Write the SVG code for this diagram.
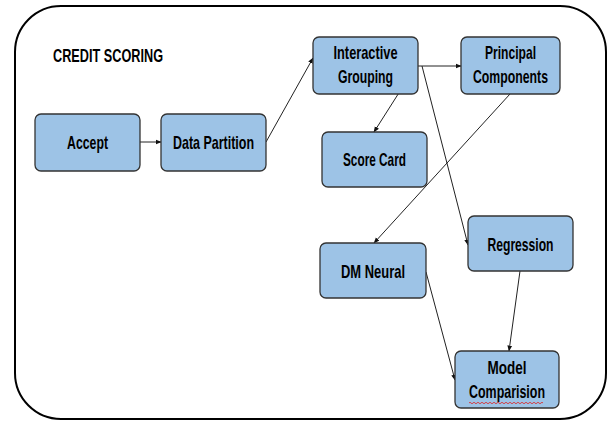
<svg xmlns="http://www.w3.org/2000/svg" width="613" height="423" viewBox="0 0 613 423">
  <style>
    .node rect { fill: #9dc3e6; stroke: #333; stroke-width: 1.3; }
    .node text, .title { font-family: "Liberation Sans", Arial, sans-serif; font-weight: bold; font-size: 18.5px; fill: #000; text-anchor: middle; }
    .title { text-anchor: start; }
    .conn line { stroke: #222; stroke-width: 1; marker-end: url(#arrow); }
  </style>
  <defs>
    <marker id="arrow" viewBox="0 0 10 10" refX="9" refY="5" markerWidth="6" markerHeight="6" orient="auto" markerUnits="userSpaceOnUse">
      <path d="M0,1 L10,5 L0,9 Z" fill="#111"/>
    </marker>
  </defs>
  <rect width="613" height="423" fill="#fff"/>
  <!-- outer frame -->
  <rect x="15" y="6" width="591" height="413" rx="46" ry="46" fill="none" stroke="#000" stroke-width="2"/>
  <text class="title" x="53" y="62" textLength="110" lengthAdjust="spacingAndGlyphs">CREDIT SCORING</text>

  <g class="conn">
    <line x1="140" y1="142" x2="161" y2="142"/>
    <line x1="266" y1="142" x2="313" y2="58"/>
    <line x1="418" y1="66" x2="461" y2="66"/>
    <line x1="416" y1="66" x2="374" y2="132"/>
    <line x1="422" y1="66" x2="468" y2="245"/>
    <line x1="510" y1="94" x2="374" y2="243"/>
    <line x1="426" y1="272" x2="455" y2="380"/>
    <line x1="520" y1="271" x2="509" y2="351"/>
  </g>

  <g id="accept" class="node">
    <rect x="35" y="114" width="105" height="57" rx="6"/>
    <text x="87.5" y="149" textLength="41" lengthAdjust="spacingAndGlyphs">Accept</text>
  </g>
  <g id="data-partition" class="node">
    <rect x="161" y="114" width="105" height="57" rx="6"/>
    <text x="213.5" y="149" textLength="81" lengthAdjust="spacingAndGlyphs">Data Partition</text>
  </g>
  <g id="interactive-grouping" class="node">
    <rect x="313" y="37" width="105" height="57" rx="6"/>
    <text x="365.5" y="59" textLength="64" lengthAdjust="spacingAndGlyphs">Interactive</text>
    <text x="365.5" y="83" textLength="55" lengthAdjust="spacingAndGlyphs">Grouping</text>
  </g>
  <g id="principal-components" class="node">
    <rect x="461" y="37" width="99" height="57" rx="6"/>
    <text x="510.5" y="59" textLength="51" lengthAdjust="spacingAndGlyphs">Principal</text>
    <text x="510.5" y="83" textLength="75" lengthAdjust="spacingAndGlyphs">Components</text>
  </g>
  <g id="score-card" class="node">
    <rect x="322" y="132" width="105" height="55" rx="6"/>
    <text x="374.5" y="166" textLength="63" lengthAdjust="spacingAndGlyphs">Score Card</text>
  </g>
  <g id="regression" class="node">
    <rect x="468" y="216" width="105" height="55" rx="6"/>
    <text x="520.5" y="251" textLength="66" lengthAdjust="spacingAndGlyphs">Regression</text>
  </g>
  <g id="dm-neural" class="node">
    <rect x="320" y="243" width="106" height="55" rx="6"/>
    <text x="373" y="278" textLength="64" lengthAdjust="spacingAndGlyphs">DM Neural</text>
  </g>
  <g id="model-comparision" class="node">
    <rect x="455" y="351" width="104" height="57" rx="6"/>
    <text x="507" y="374" textLength="39" lengthAdjust="spacingAndGlyphs">Model</text>
    <text x="507" y="398" textLength="76" lengthAdjust="spacingAndGlyphs">Comparision</text>
    <path d="M469,403 q1,-1.5 2,0 t2,0 t2,0 t2,0 t2,0 t2,0 t2,0 t2,0 t2,0 t2,0 t2,0 t2,0 t2,0 t2,0 t2,0 t2,0 t2,0 t2,0 t2,0 t2,0 t2,0 t2,0 t2,0 t2,0 t2,0 t2,0 t2,0 t2,0 t2,0 t2,0 t2,0 t2,0 t2,0 t2,0 t2,0 t2,0 t2,0" fill="none" stroke="#e02020" stroke-width="0.8"/>
  </g>
</svg>
